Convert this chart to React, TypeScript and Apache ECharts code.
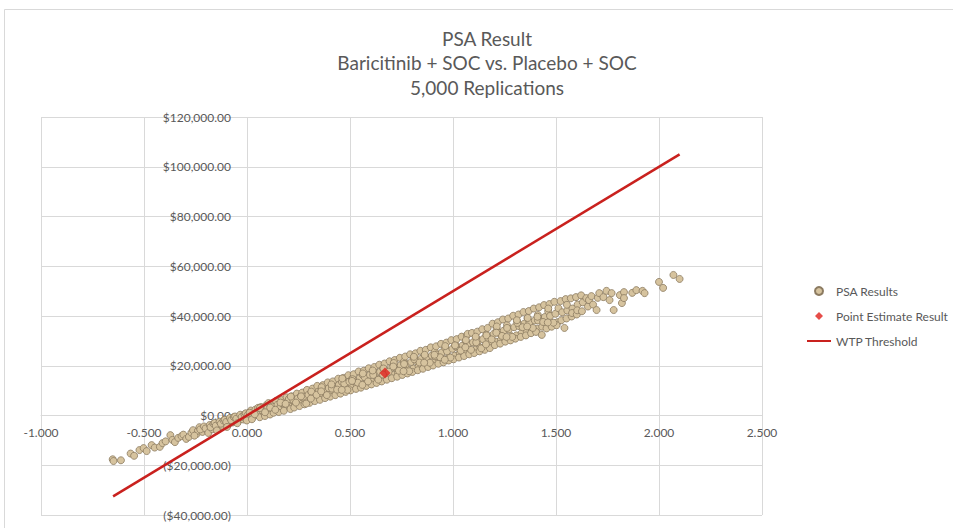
import React, { useEffect, useRef } from "react";
import * as echarts from "echarts";

const titleLines = ["PSA Result", "Baricitinib + SOC vs. Placebo + SOC", "5,000 Replications"];
const seriesNames = ["PSA Results", "Point Estimate Result", "WTP Threshold"];

const X_MIN = -1;
const X_MAX = 2.5;
const X_STEP = 0.5;
const Y_MIN = -40000;
const Y_MAX = 120000;
const Y_STEP = 20000;

// incremental QALYs, incremental cost ($) (a sample of the 5,000 replications)
const psaResults: [number, number][] = [
  [-0.652, -17600], [-0.648, -18300], [-0.612, -18000], [-0.565, -15300], [-0.548, -16200], [-0.522, -13900],
  [-0.502, -13100], [-0.487, -14300], [-0.463, -11900], [-0.448, -12900], [-0.423, -12600], [-0.41, -11100],
  [-0.395, -10400], [-0.372, -7900], [-0.362, -9800], [-0.35, -10700], [-0.334, -9000], [-0.318, -8300],
  [-0.309, -7700], [-0.295, -9400], [-0.282, -8600], [-0.27, -6900],
  [-0.262, -5900], [-0.244, -7400], [-0.238, -6100], [-0.255, -8100],
  [-0.231, -4700], [-0.216, -6600], [-0.227, -5600],
  [-0.209, -4400], [-0.192, -6300], [-0.201, -5200], [-0.188, -7000],
  [-0.181, -3800], [-0.168, -5500], [-0.177, -4700], [-0.163, -3300],
  [-0.157, -3000], [-0.141, -4900], [-0.152, -4100], [-0.146, -6000],
  [-0.133, -2500], [-0.119, -4200], [-0.127, -3300], [-0.114, -2000],
  [-0.108, -1700], [-0.092, -3800], [-0.101, -2600], [-0.097, -4600],
  [-0.083, -1000], [-0.069, -2800], [-0.077, -1900], [-0.064, -600],
  [-0.058, -400], [-0.041, -2200], [-0.052, -1300], [-0.047, -3100],
  [-0.033, 300], [-0.018, -1600], [-0.026, -600], [-0.012, 400],
  [-0.006, 900], [0.009, -1100], [0.002, 100], [-0.001, -2000], [0.014, 1300],
  [0.019, 2000], [0.033, -400], [0.027, 800], [0.024, -1500],
  [0.041, 2400], [0.058, 200], [0.049, 1500], [0.062, -700], [0.054, 3100],
  [0.068, 3400], [0.083, 1000], [0.074, 2100], [0.087, -200],
  [0.093, 4100], [0.108, 1600], [0.099, 2900], [0.112, 400], [0.104, 5000],
  [0.117, 4700], [0.134, 2000], [0.122, 3600], [0.129, 1100],
  [0.141, 5800], [0.159, 2500], [0.148, 4300], [0.154, 1400], [0.163, 3700],
  [0.168, 6200], [0.183, 3400], [0.171, 5000], [0.179, 1900],
  [0.192, 7300], [0.207, 4000], [0.198, 5700], [0.211, 2600], [0.203, 6600],
  [0.217, 7700], [0.233, 4600], [0.224, 6300], [0.229, 3200],
  [0.242, 8800], [0.258, 5000], [0.246, 6800], [0.255, 3800], [0.262, 7900],
  [0.268, 9200], [0.283, 5900], [0.273, 7600], [0.279, 4500],
  [0.291, 10300], [0.309, 6200], [0.298, 8300], [0.304, 5100], [0.313, 9400],
  [0.318, 10800], [0.333, 7100], [0.321, 8800], [0.329, 5800],
  [0.341, 11900], [0.358, 7500], [0.347, 9600], [0.354, 6300], [0.362, 10600],
  [0.368, 12200], [0.384, 8400], [0.372, 10100], [0.379, 7000],
  [0.392, 13300], [0.408, 8800], [0.397, 11000], [0.404, 7600], [0.412, 12100],
  [0.417, 13700], [0.433, 9600], [0.421, 11500], [0.429, 8200],
  [0.443, 14800], [0.458, 10000], [0.446, 12300], [0.454, 8800], [0.461, 13500],
  [0.468, 15100], [0.484, 10900], [0.472, 12800], [0.479, 9500],
  [0.492, 16200], [0.508, 11300], [0.497, 13600], [0.503, 10100], [0.511, 14900],
  [0.518, 16600], [0.533, 12100], [0.521, 14100], [0.529, 10700],
  [0.542, 17700], [0.559, 12600], [0.547, 15000], [0.553, 11200], [0.562, 16300],
  [0.567, 18000], [0.583, 13400], [0.571, 15400], [0.579, 11900],
  [0.591, 19000], [0.609, 13800], [0.597, 16300], [0.604, 12500], [0.612, 17700],
  [0.618, 19500], [0.633, 14700], [0.621, 16700], [0.629, 13100],
  [0.642, 20400], [0.658, 15100], [0.646, 17600], [0.654, 13700], [0.661, 19000],
  [0.668, 20900], [0.683, 15900], [0.671, 18000], [0.679, 14400],
  [0.692, 21800], [0.708, 16400], [0.697, 18900], [0.703, 15000], [0.712, 20300],
  [0.717, 22300], [0.733, 17200], [0.721, 19300], [0.729, 15600],
  [0.742, 23200], [0.758, 17600], [0.746, 20200], [0.754, 16300], [0.762, 21700],
  [0.768, 23700], [0.783, 18500], [0.771, 20600], [0.779, 16900],
  [0.792, 24600], [0.808, 18900], [0.797, 21500], [0.803, 17500], [0.812, 23000],
  [0.818, 25000], [0.833, 19700], [0.821, 21900], [0.829, 18200],
  [0.842, 26000], [0.858, 20200], [0.846, 22800], [0.854, 18800], [0.862, 24300],
  [0.868, 26400], [0.883, 21000], [0.871, 23200], [0.879, 19500],
  [0.892, 27400], [0.908, 21400], [0.897, 24100], [0.903, 20100], [0.912, 25700],
  [0.918, 27800], [0.933, 22300], [0.921, 24500], [0.929, 20800],
  [0.942, 28800], [0.958, 22700], [0.946, 25400], [0.954, 21400], [0.962, 27100],
  [0.968, 29300], [0.983, 23500], [0.971, 25800], [0.979, 22100],
  [0.992, 30300], [1.008, 24000], [0.997, 26800], [1.003, 22600], [1.012, 28500],
  [1.018, 30700], [1.033, 24800], [1.021, 27200], [1.029, 23300],
  [1.042, 31700], [1.058, 25200], [1.046, 28100], [1.054, 23900], [1.062, 29900],
  [1.068, 32200], [1.083, 26100], [1.071, 28500], [1.079, 24600], [1.071, 32800],
  [1.092, 33200], [1.108, 26500], [1.097, 29400], [1.103, 25100], [1.112, 31300],
  [1.118, 33700], [1.133, 27300], [1.121, 29800], [1.129, 25800],
  [1.142, 34700], [1.158, 27700], [1.146, 30700], [1.154, 26400], [1.162, 32600],
  [1.168, 35200], [1.183, 28600], [1.171, 31100], [1.179, 27100],
  [1.192, 36900], [1.208, 29700], [1.197, 32800], [1.203, 28300], [1.212, 34800],
  [1.218, 37500], [1.233, 30500], [1.221, 33200], [1.229, 28900],
  [1.242, 38600], [1.258, 31000], [1.246, 34100], [1.254, 29700], [1.262, 36300],
  [1.268, 39000], [1.283, 31900], [1.271, 34600], [1.279, 30200],
  [1.292, 40100], [1.308, 32200], [1.297, 35500], [1.303, 30900], [1.312, 37700],
  [1.318, 40600], [1.333, 33100], [1.321, 35900], [1.329, 31600],
  [1.342, 41600], [1.358, 33600], [1.346, 36900], [1.354, 32200], [1.362, 39100],
  [1.368, 42000], [1.383, 34400], [1.371, 37300], [1.379, 33100],
  [1.392, 43000], [1.408, 34900], [1.397, 38200], [1.403, 33600], [1.412, 40400],
  [1.418, 43500], [1.433, 35700], [1.421, 38700], [1.431, 32400],
  [1.442, 44400], [1.458, 36200], [1.446, 39600], [1.454, 35000], [1.462, 41900],
  [1.468, 44800], [1.483, 37100], [1.471, 40000], [1.479, 35700],
  [1.492, 45700], [1.508, 37500], [1.497, 40900], [1.503, 36300], [1.512, 43100],
  [1.522, 46000], [1.526, 38300], [1.53, 41500], [1.541, 35200],
  [1.547, 46800], [1.551, 39000], [1.555, 42200], [1.553, 44500],
  [1.572, 47100], [1.576, 39800], [1.58, 43000], [1.578, 41200],
  [1.597, 47600], [1.601, 40600], [1.605, 44600], [1.603, 42300],
  [1.622, 48300], [1.626, 41900], [1.63, 45500],
  [1.647, 47200], [1.655, 43800], [1.66, 46400],
  [1.672, 48000], [1.68, 44600],
  [1.697, 42400], [1.703, 47300], [1.71, 49200],
  [1.73, 47600], [1.745, 50100],
  [1.76, 46400], [1.77, 49200], [1.78, 42400],
  [1.81, 48400], [1.82, 45200], [1.83, 49600], [1.83, 47200],
  [1.87, 49300], [1.89, 50400], [1.92, 50100], [1.93, 49200],
  [2.0, 53700], [2.02, 51300], [2.07, 56500], [2.1, 54900],
  // additional replications filling the dense core of the cloud
  [0.0125, 1100], [0.0375, 500], [0.0625, 3000], [0.0875, 1300], [0.1125, 3200], [0.1375, 2300],
  [0.1625, 5200], [0.1875, 4700], [0.2125, 7600], [0.2375, 5200], [0.2625, 7700], [0.2875, 4800],
  [0.3125, 9600], [0.3375, 8300], [0.3625, 11400], [0.3875, 8200], [0.4125, 10800], [0.4375, 10400],
  [0.4625, 14900], [0.4875, 10300], [0.5125, 14600], [0.5375, 13200], [0.5625, 16900], [0.5875, 13700],
  [0.6125, 16300], [0.6375, 14400], [0.6625, 18900], [0.6875, 17600], [0.7125, 21100], [0.7375, 18000],
  [0.7625, 20700], [0.7875, 17800], [0.8125, 22600], [0.8375, 21300], [0.8625, 24400], [0.8875, 21200],
  [0.9125, 23800], [0.9375, 23400], [0.9625, 27900], [0.9875, 23300], [1.0125, 27800], [1.0375, 26100],
  [1.0625, 30300], [1.0875, 26400], [1.1125, 29400], [1.1375, 27000], [1.1625, 32200], [1.1875, 30600],
  [1.2125, 35800], [1.2375, 32000], [1.2625, 35200], [1.2875, 31600], [1.3125, 37200], [1.3375, 35500],
  [1.3625, 39200], [1.3875, 35200], [1.4125, 38200], [1.4375, 37600], [1.4625, 43000], [1.4875, 37300],
  [0.31, 6800], [0.36, 9700], [0.41, 12500], [0.46, 10300], [0.51, 13900], [0.56, 12300],
  [0.61, 18100], [0.66, 16500], [0.71, 19700], [0.76, 17800], [0.81, 23600], [0.86, 21200],
  [0.91, 24400], [0.96, 22400], [1.01, 28200], [1.06, 27400], [1.11, 31700], [1.16, 28600],
  [1.21, 33300], [1.26, 31600], [1.31, 38300], [1.36, 35800], [1.41, 39700], [1.46, 37400],
];

const pointEstimate: [number, number][] = [[0.67, 17100]];

const wtpThreshold: [number, number][] = [
  [-0.65, -32500],
  [2.1, 105000],
];

const FONT = "Lato, 'Open Sans', sans-serif";
const TEXT = "#595959";
const GRID = "#D9D9D9";

const GRID_LEFT = 41;
const GRID_RIGHT = 191;
const GRID_TOP = 117;
const GRID_BOTTOM = 13;
const W = 953;
const H = 528;

function money(v: number): string {
  const s = Math.abs(v).toLocaleString("en-US", { minimumFractionDigits: 2, maximumFractionDigits: 2 });
  return v < 0 ? `($${s})` : `$${s}`;
}

export default function App() {
  const ref = useRef<HTMLDivElement>(null);
  useEffect(() => {
    document.body.style.margin = "0";
    document.body.style.background = "#ffffff";
    if (!ref.current) return;
    const chart = echarts.init(ref.current, null, { renderer: "svg" });
    const plotW = W - GRID_LEFT - GRID_RIGHT;
    const plotH = H - GRID_TOP - GRID_BOTTOM;
    // axes cross at zero (as in the Excel chart)
    const yAxisOffset = -(plotW * (0 - X_MIN)) / (X_MAX - X_MIN);
    const xAxisOffset = -(plotH * (0 - Y_MIN)) / (Y_MAX - Y_MIN);
    chart.setOption({
      animation: false,
      backgroundColor: "#ffffff",
      textStyle: { fontFamily: FONT },
      graphic: [
        {
          type: "rect",
          z: -10,
          silent: true,
          shape: { x: 4.5, y: 9.5, width: 1000, height: 600 },
          style: { fill: "none", stroke: GRID, lineWidth: 1 },
        },
        ...titleLines.map((t, i) => ({
          type: "text",
          x: 487,
          y: 38 + i * 24.5,
          style: {
            text: t,
            fill: TEXT,
            font: `19px ${FONT}`,
            textAlign: "center",
            textVerticalAlign: "middle",
          },
        })),
      ],
      grid: {
        left: GRID_LEFT,
        right: GRID_RIGHT,
        top: GRID_TOP,
        bottom: GRID_BOTTOM,
        containLabel: false,
        outerBoundsMode: "none",
      },
      legend: {
        orient: "vertical",
        left: 801,
        top: 280,
        itemWidth: 24,
        itemHeight: 8,
        itemGap: 13,
        textStyle: { fontSize: 12, color: TEXT, fontFamily: FONT },
        data: [
          { name: seriesNames[0], icon: "circle" },
          { name: seriesNames[1], icon: "path://M5,0L10,5L5,10L0,5Z" },
          { name: seriesNames[2], itemStyle: { color: "rgba(0,0,0,0)", opacity: 0, borderWidth: 0 } },
        ],
      },
      xAxis: {
        type: "value",
        min: X_MIN,
        max: X_MAX,
        interval: X_STEP,
        offset: xAxisOffset,
        axisLine: { show: true, onZero: false, lineStyle: { color: GRID, width: 1 } },
        axisTick: { show: false },
        splitLine: { show: true, lineStyle: { color: GRID, width: 1 } },
        axisLabel: {
          color: TEXT,
          fontSize: 12,
          fontFamily: FONT,
          margin: 11,
          formatter: (v: number) => v.toFixed(3),
        },
      },
      yAxis: {
        type: "value",
        min: Y_MIN,
        max: Y_MAX,
        interval: Y_STEP,
        offset: yAxisOffset,
        axisLine: { show: false, onZero: false },
        axisTick: { show: false },
        splitLine: { show: true, lineStyle: { color: GRID, width: 1 } },
        axisLabel: {
          color: TEXT,
          fontSize: 12,
          fontFamily: FONT,
          margin: 16,
          formatter: (v: number) => money(v),
        },
      },
      series: [
        {
          name: seriesNames[0],
          type: "scatter",
          data: psaResults,
          symbol: "circle",
          symbolSize: 7,
          itemStyle: { color: "#D6C39E", borderColor: "#8C7B61", borderWidth: 0.8, opacity: 1 },
        },
        {
          name: seriesNames[1],
          type: "scatter",
          data: pointEstimate,
          symbol: "diamond",
          symbolSize: 11,
          itemStyle: { color: "#E0201C" },
        },
        {
          name: seriesNames[2],
          type: "line",
          data: wtpThreshold,
          symbol: "none",
          showSymbol: false,
          lineStyle: { color: "#C9211E", width: 2.5 },
          itemStyle: { color: "#C9211E" },
        },
      ],
    });
    return () => chart.dispose();
  }, []);
  return <div ref={ref} style={{ width: W, height: H }} />;
}
